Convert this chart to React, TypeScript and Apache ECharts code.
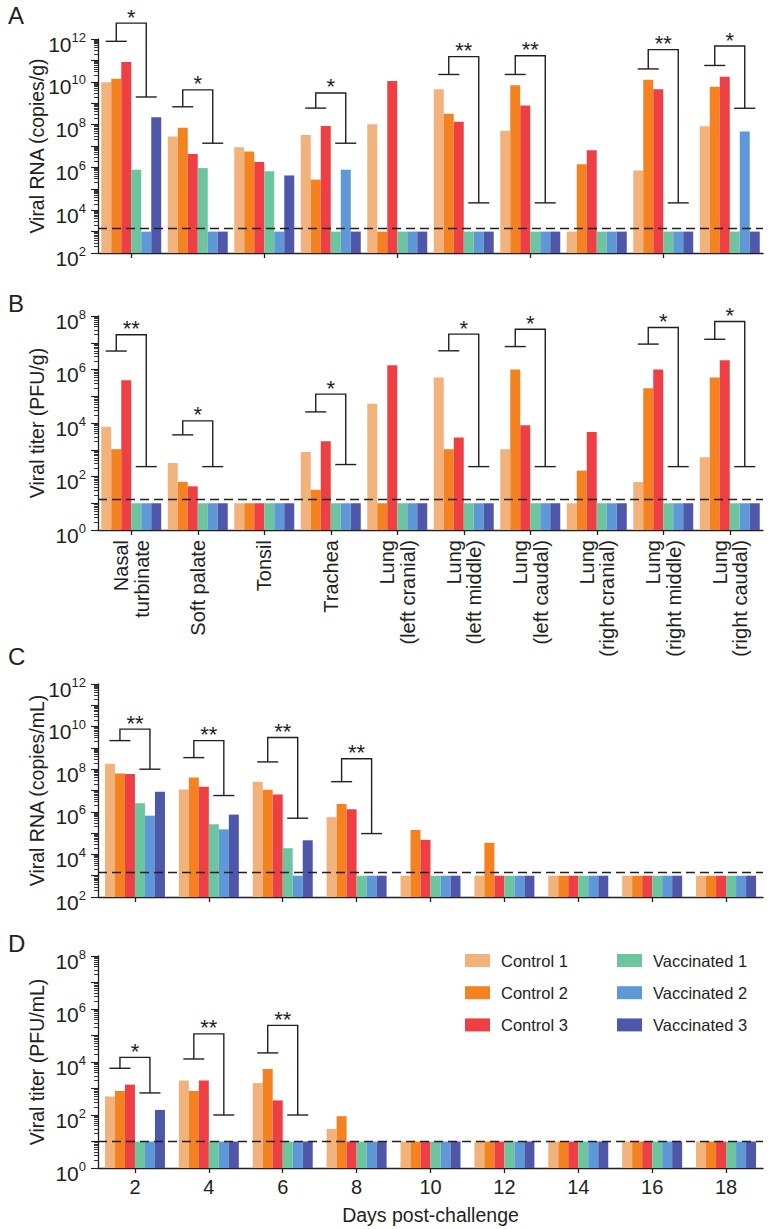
import React, { useEffect, useRef } from 'react';
import * as echarts from 'echarts';

const FONT = '"Liberation Sans", Arial, Helvetica, sans-serif';
const TEXT = '#231f20';
const BAR_W = 10;
const ARM = 10.5;

const seriesNames = ['Control 1', 'Control 2', 'Control 3', 'Vaccinated 1', 'Vaccinated 2', 'Vaccinated 3'];
const seriesColors = ['#F2B27C', '#F58220', '#EE4044', '#6DC59F', '#5E98D7', '#4F57AB'];

const tissues = [
  'Nasal\nturbinate', 'Soft palate', 'Tonsil', 'Trachea',
  'Lung\n(left cranial)', 'Lung\n(left middle)', 'Lung\n(left caudal)',
  'Lung\n(right cranial)', 'Lung\n(right middle)', 'Lung\n(right caudal)',
];
const days = ['2', '4', '6', '8', '10', '12', '14', '16', '18'];

// Panel A: viral RNA in tissues (copies/g)
const tissueRnaControl1 = [9.5e9, 2.8e7, 8.7e6, 3.3e7, 1.05e8, 4.5e9, 5.2e7, 1e3, 7.2e5, 8.3e7];
const tissueRnaControl2 = [1.4e10, 7.2e7, 5.6e6, 2.7e5, 1e3, 3.2e8, 6.9e9, 1.4e6, 1.26e10, 5.8e9];
const tissueRnaControl3 = [8.5e10, 4.2e6, 1.8e6, 8.7e7, 1.1e10, 1.35e8, 7.9e8, 6.3e6, 4.5e9, 1.7e10];
const tissueRnaVacc1 = [7.8e5, 9.3e5, 6.6e5, 1e3, 1e3, 1e3, 1e3, 1e3, 1e3, 1e3];
const tissueRnaVacc2 = [1e3, 1e3, 1e3, 7.8e5, 1e3, 1e3, 1e3, 1e3, 1e3, 4.7e7];
const tissueRnaVacc3 = [2.2e8, 1e3, 4.2e5, 1e3, 1e3, 1e3, 1e3, 1e3, 1e3, 1e3];
const tissueRnaLod = 1.4e3;
// [category, left arm, top, right arm]
const tissueRnaBrackets = [
  [0, 7.8e11, 5.5e12, 1.95e9],
  [1, 6.8e8, 4.2e9, 1.35e7],
  [3, 5.9e8, 3.0e9, 1.35e7],
  [5, 2.2e10, 1.5e11, 2.2e4],
  [6, 2.2e10, 1.65e11, 2.2e4],
  [8, 4.0e10, 3.2e11, 2.2e4],
  [9, 5.8e10, 4.7e11, 5.8e8],
];
const tissueRnaStars = ['*', '*', '*', '**', '**', '**', '*'];

// Panel B: viral titer in tissues (PFU/g)
const tissueTiterControl1 = [7.2e3, 320, 10, 830, 5.2e4, 5e5, 1.05e3, 10, 62, 525];
const tissueTiterControl2 = [1.05e3, 63, 10, 32, 10, 1.05e3, 1e6, 166, 2e5, 5e5];
const tissueTiterControl3 = [4e5, 43, 10, 2.1e3, 1.45e6, 2.9e3, 8.3e3, 4.6e3, 1e6, 2.2e6];
const tissueTiterVacc1 = [10, 10, 10, 10, 10, 10, 10, 10, 10, 10];
const tissueTiterVacc2 = [10, 10, 10, 10, 10, 10, 10, 10, 10, 10];
const tissueTiterVacc3 = [10, 10, 10, 10, 10, 10, 10, 10, 10, 10];
const tissueTiterLod = 14;
const tissueTiterBrackets = [
  [0, 4.9e6, 2.0e7, 234],
  [1, 3.6e3, 1.2e4, 234],
  [3, 2.6e4, 1.2e5, 280],
  [5, 5.0e6, 2.1e7, 234],
  [6, 7.2e6, 3.2e7, 234],
  [8, 8.9e6, 3.7e7, 234],
  [9, 1.35e7, 6.2e7, 234],
];
const tissueTiterStars = ['**', '*', '*', '*', '*', '*', '*'];

// Panel C: viral RNA in blood (copies/mL)
const bloodRnaControl1 = [1.8e8, 1.1e7, 2.6e7, 5.6e5, 1e3, 1e3, 1e3, 1e3, 1e3];
const bloodRnaControl2 = [6.3e7, 4.1e7, 1.07e7, 2.3e6, 1.4e5, 3.5e4, 1e3, 1e3, 1e3];
const bloodRnaControl3 = [6e7, 1.5e7, 6.5e6, 1.3e6, 4.8e4, 1e3, 1e3, 1e3, 1e3];
const bloodRnaVacc1 = [2.5e6, 2.6e5, 1.95e4, 1e3, 1e3, 1e3, 1e3, 1e3, 1e3];
const bloodRnaVacc2 = [6.6e5, 1.5e5, 1e3, 1e3, 1e3, 1e3, 1e3, 1e3, 1e3];
const bloodRnaVacc3 = [8.7e6, 7.4e5, 4.6e4, 1e3, 1e3, 1e3, 1e3, 1e3, 1e3];
const bloodRnaLod = 1.4e3;
const bloodRnaBrackets = [
  [0, 2.2e9, 7.6e9, 1e8],
  [1, 3.5e8, 2.2e9, 5.8e6],
  [2, 2.2e8, 3.1e9, 5e5],
  [3, 2.6e7, 3.1e8, 9.5e4],
];
const bloodRnaStars = ['**', '**', '**', '**'];

// Panel D: viral titer in blood (PFU/mL)
const bloodTiterControl1 = [500, 2e3, 1.6e3, 30, 10, 10, 10, 10, 10];
const bloodTiterControl2 = [810, 810, 5.5e3, 90, 10, 10, 10, 10, 10];
const bloodTiterControl3 = [1.4e3, 2e3, 355, 10, 10, 10, 10, 10, 10];
const bloodTiterVacc1 = [10, 10, 10, 10, 10, 10, 10, 10, 10];
const bloodTiterVacc2 = [10, 10, 10, 10, 10, 10, 10, 10, 10];
const bloodTiterVacc3 = [155, 10, 10, 10, 10, 10, 10, 10, 10];
const bloodTiterLod = 10;
const bloodTiterBrackets = [
  [0, 5.8e3, 1.5e4, 680],
  [1, 1.3e4, 1.15e5, 100],
  [2, 2.2e4, 2.4e5, 100],
];
const bloodTiterStars = ['*', '**', '**'];

const panels = [
  {
    letter: 'A', top: 39, height: 214, min: 1e2, max: 1e12, split: 10,
    title: 'Viral RNA (copies/g)', cats: tissues,
    values: [tissueRnaControl1, tissueRnaControl2, tissueRnaControl3, tissueRnaVacc1, tissueRnaVacc2, tissueRnaVacc3],
    lod: tissueRnaLod, brackets: tissueRnaBrackets, stars: tissueRnaStars,
  },
  {
    letter: 'B', top: 316, height: 214, min: 1, max: 1e8, split: 8,
    title: 'Viral titer (PFU/g)', cats: tissues,
    values: [tissueTiterControl1, tissueTiterControl2, tissueTiterControl3, tissueTiterVacc1, tissueTiterVacc2, tissueTiterVacc3],
    lod: tissueTiterLod, brackets: tissueTiterBrackets, stars: tissueTiterStars,
  },
  {
    letter: 'C', top: 684, height: 213, min: 1e2, max: 1e12, split: 10,
    title: 'Viral RNA (copies/mL)', cats: days,
    values: [bloodRnaControl1, bloodRnaControl2, bloodRnaControl3, bloodRnaVacc1, bloodRnaVacc2, bloodRnaVacc3],
    lod: bloodRnaLod, brackets: bloodRnaBrackets, stars: bloodRnaStars,
  },
  {
    letter: 'D', top: 956, height: 212, min: 1, max: 1e8, split: 8,
    title: 'Viral titer (PFU/mL)', cats: days,
    values: [bloodTiterControl1, bloodTiterControl2, bloodTiterControl3, bloodTiterVacc1, bloodTiterVacc2, bloodTiterVacc3],
    lod: bloodTiterLod, brackets: bloodTiterBrackets, stars: bloodTiterStars,
  },
];

const letterTops = [3, 291, 644, 931];

function buildOption() {
  const axisLine = { show: true, lineStyle: { color: TEXT, width: 1.3 } };
  const grid: any[] = [];
  const xAxis: any[] = [];
  const yAxis: any[] = [];
  const series: any[] = [];

  panels.forEach((p, i) => {
    grid.push({ left: 98, width: 665, top: p.top, height: p.height });
    let xLabel: any = { show: false };
    if (i === 1) {
      xLabel = {
        show: true, rotate: 90, interval: 0, margin: 10, hideOverlap: false,
        fontSize: 20, lineHeight: 20.5, color: TEXT, fontFamily: FONT,
      };
    }
    if (i === 3) {
      xLabel = { show: true, interval: 0, fontSize: 20, margin: 9, color: TEXT, fontFamily: FONT };
    }
    xAxis.push({
      type: 'category', gridIndex: i, data: p.cats,
      axisLine, axisTick: { show: true, alignWithLabel: true, length: 5, lineStyle: { color: TEXT, width: 1.3 } },
      axisLabel: xLabel, splitLine: { show: false },
      ...(i === 3
        ? { name: 'Days post-challenge', nameLocation: 'middle', nameGap: 37, nameMoveOverlap: false,
            nameTextStyle: { fontSize: 19.5, color: TEXT, fontFamily: FONT } }
        : {}),
    });
    yAxis.push({
      type: 'log', logBase: 10, gridIndex: i, min: p.min, max: p.max, splitNumber: p.split,
      axisLine,
      axisTick: { show: true, inside: false, length: 7, lineStyle: { color: TEXT, width: 1.1 } },
      minorTick: { show: true, splitNumber: 9, length: 4, lineStyle: { color: TEXT, width: 0.9 } },
      splitLine: { show: false }, minorSplitLine: { show: false },
      axisLabel: {
        margin: 12, padding: [7, 0, 0, 0],
        formatter: (v: number) => {
          const e = Math.round(Math.log10(v));
          return e % 2 === 0 ? `{b|10}{s|${e}}` : '';
        },
        rich: {
          b: { fontSize: 21, fontFamily: FONT, color: TEXT, lineHeight: 24, verticalAlign: 'bottom' },
          s: { fontSize: 13, fontFamily: FONT, color: TEXT, lineHeight: 14, verticalAlign: 'top' },
        },
      },
      name: p.title, nameLocation: 'middle', nameGap: 51, nameRotate: 90, nameMoveOverlap: false,
      nameTextStyle: { fontSize: 19.5, color: TEXT, fontFamily: FONT },
    });

    p.values.forEach((vals, k) => {
      const s: any = {
        type: 'bar', name: seriesNames[k], xAxisIndex: i, yAxisIndex: i,
        data: vals, barWidth: BAR_W, barGap: '0%',
        itemStyle: { color: seriesColors[k] }, clip: true, z: 2,
      };
      if (k === 5) {
        s.markLine = {
          silent: true, symbol: 'none', animation: false,
          label: { show: false },
          lineStyle: { color: TEXT, type: [9, 5], width: 1.3 },
          data: [{ yAxis: p.lod }],
        };
      }
      series.push(s);
    });

    const stars = p.stars;
    series.push({
      type: 'custom', xAxisIndex: i, yAxisIndex: i, silent: true, z: 10, clip: false,
      encode: { x: 0, y: [1, 2, 3] },
      data: p.brackets,
      renderItem: (params: any, api: any) => {
        const cat = api.value(0);
        const pL = api.coord([cat, api.value(1)]);
        const pT = api.coord([cat, api.value(2)]);
        const pR = api.coord([cat, api.value(3)]);
        const cx = pL[0];
        const xl = cx - 1.5 * BAR_W;
        const xr = cx + 1.5 * BAR_W;
        const style = { stroke: TEXT, lineWidth: 1.4, fill: null };
        return {
          type: 'group',
          children: [
            { type: 'polyline', shape: { points: [[xl - ARM, pL[1]], [xl + ARM, pL[1]]] }, style },
            { type: 'polyline', shape: { points: [[xl, pL[1]], [xl, pT[1]], [xr, pT[1]], [xr, pR[1]]] }, style },
            { type: 'polyline', shape: { points: [[xr - ARM, pR[1]], [xr + ARM, pR[1]]] }, style },
            {
              type: 'text', x: cx, y: pT[1] - 6,
              style: {
                text: stars[params.dataIndex], fill: TEXT, fontSize: 22, fontFamily: FONT,
                align: 'center', verticalAlign: 'middle',
              },
            },
          ],
        };
      },
    });
  });

  const legendBase = {
    orient: 'vertical', itemWidth: 25, itemHeight: 13, itemGap: 15.2, icon: 'rect',
    selectedMode: false, top: 947,
    textStyle: { fontSize: 16.5, lineHeight: 16.5, fontFamily: FONT, color: TEXT, padding: [0, 0, 0, 6] },
  };

  return {
    animation: false,
    backgroundColor: '#ffffff',
    textStyle: { fontFamily: FONT },
    grid, xAxis, yAxis, series,
    legend: [
      { ...legendBase, left: 460, data: seriesNames.slice(0, 3) },
      { ...legendBase, left: 612, data: seriesNames.slice(3) },
    ],
    graphic: panels.map((p, i) => ({
      type: 'text', left: 8, top: letterTops[i],
      style: { text: p.letter, fontSize: 24, fontFamily: FONT, fill: TEXT },
    })),
  };
}

export default function App() {
  const ref = useRef<HTMLDivElement>(null);
  useEffect(() => {
    document.body.style.margin = '0';
    if (!ref.current) return;
    const chart = echarts.init(ref.current, undefined, { renderer: 'svg' });
    chart.setOption(buildOption() as any);
    return () => chart.dispose();
  }, []);
  return <div ref={ref} style={{ width: 768, height: 1229 }} />;
}
